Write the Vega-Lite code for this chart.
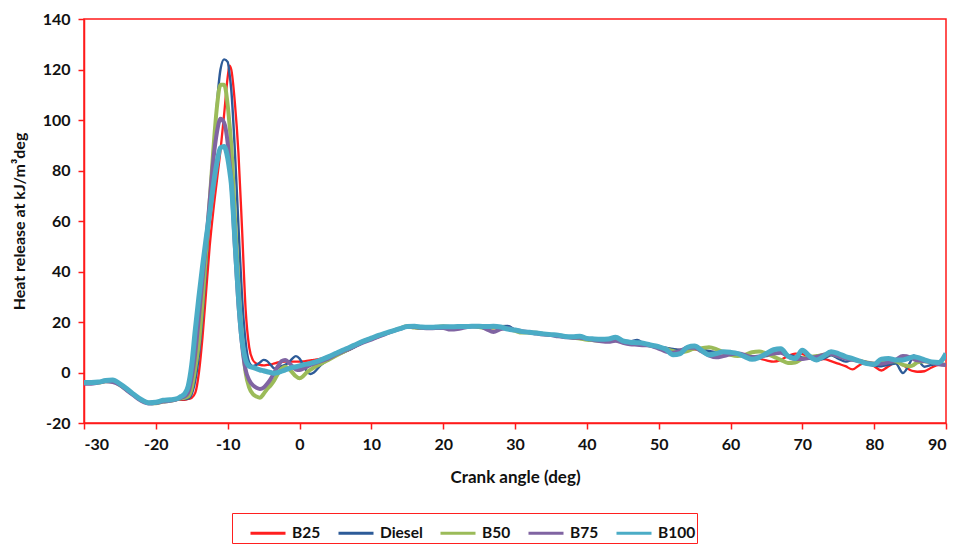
{
  "$schema": "https://vega.github.io/schema/vega-lite/v6.json",
  "width": 862,
  "height": 404,
  "autosize": {"type": "none"},
  "padding": {"left": 84, "top": 19, "right": 13, "bottom": 122},
  "background": "white",
  "config": {
    "view": {"stroke": "#ff1a1a", "strokeWidth": 1.5},
    "font": "Lato",
    "axis": {
      "grid": false,
      "domainColor": "#ff1a1a",
      "domainWidth": 1.5,
      "tickColor": "#ff1a1a",
      "tickWidth": 1.5,
      "tickSize": 6,
      "labelFont": "Lato",
      "labelFontSize": 16,
      "labelFontWeight": "bold",
      "labelColor": "#111111",
      "titleFont": "Lato",
      "titleFontSize": 16,
      "titleFontWeight": "bold",
      "titleColor": "#111111"
    },
    "legend": {
      "title": null,
      "orient": "none",
      "direction": "horizontal",
      "legendX": 148,
      "legendY": 494,
      "symbolType": "stroke",
      "symbolSize": 1225,
      "symbolStrokeWidth": 3,
      "symbolOffset": 16,
      "labelFont": "Lato",
      "labelFontSize": 15.5,
      "labelFontWeight": "bold",
      "labelColor": "#111111",
      "labelOffset": 5,
      "columnPadding": 0,
      "padding": 1,
      "strokeColor": "#ff1f1f",
      "fillColor": "white"
    }
  },
  "data": {
    "values": [
      {"angle": -30, "B25": -4, "Diesel": -4, "B50": -4, "B75": -4.5, "B100": -4},
      {"angle": -29, "B25": -4, "Diesel": -4, "B50": -4, "B75": -4.5, "B100": -4},
      {"angle": -28, "B25": -4, "Diesel": -4, "B50": -4, "B75": -4, "B100": -3.8},
      {"angle": -27, "B25": -3.5, "Diesel": -3.5, "B50": -3.5, "B75": -3.5, "B100": -3.2},
      {"angle": -26, "B25": -3.5, "Diesel": -3.5, "B50": -3.5, "B75": -3.8, "B100": -3},
      {"angle": -25, "B25": -5, "Diesel": -5, "B50": -5, "B75": -5, "B100": -4.5},
      {"angle": -24, "B25": -7, "Diesel": -7, "B50": -7, "B75": -7.2, "B100": -6.5},
      {"angle": -23, "B25": -9, "Diesel": -9, "B50": -9, "B75": -9.3, "B100": -8.8},
      {"angle": -22, "B25": -11, "Diesel": -11, "B50": -11, "B75": -11.3, "B100": -10.8},
      {"angle": -21, "B25": -12, "Diesel": -12, "B50": -12, "B75": -12.3, "B100": -12},
      {"angle": -20, "B25": -12, "Diesel": -12, "B50": -12.2, "B75": -12, "B100": -11.8},
      {"angle": -19, "B25": -11.5, "Diesel": -11.5, "B50": -11.5, "B75": -11.5, "B100": -11},
      {"angle": -18, "B25": -11.2, "Diesel": -11.2, "B50": -11.2, "B75": -11.2, "B100": -10.8},
      {"angle": -17, "B25": -10.8, "Diesel": -10.8, "B50": -10.5, "B75": -10.5, "B100": -10.3},
      {"angle": -16.5, "B25": -10.8, "Diesel": -10.5, "B50": -10.2, "B75": -10, "B100": -9.5},
      {"angle": -16, "B25": -10.8, "Diesel": -10.5, "B50": -10, "B75": -9.5, "B100": -8.5},
      {"angle": -15.5, "B25": -10.5, "Diesel": -10.3, "B50": -9.5, "B75": -8, "B100": -5.5},
      {"angle": -15, "B25": -10, "Diesel": -8.5, "B50": -6, "B75": -2, "B100": 3},
      {"angle": -14.5, "B25": -8, "Diesel": -3, "B50": 2, "B75": 8, "B100": 17},
      {"angle": -14, "B25": 0, "Diesel": 7, "B50": 12, "B75": 22, "B100": 30},
      {"angle": -13.5, "B25": 14, "Diesel": 22, "B50": 28, "B75": 37, "B100": 42},
      {"angle": -13, "B25": 32, "Diesel": 42, "B50": 48, "B75": 52, "B100": 53},
      {"angle": -12.5, "B25": 50, "Diesel": 62, "B50": 68, "B75": 68, "B100": 63},
      {"angle": -12, "B25": 64, "Diesel": 85, "B50": 88, "B75": 84, "B100": 74},
      {"angle": -11.5, "B25": 76, "Diesel": 106, "B50": 105, "B75": 95, "B100": 83},
      {"angle": -11, "B25": 88, "Diesel": 120, "B50": 114, "B75": 100.5, "B100": 89},
      {"angle": -10.5, "B25": 102, "Diesel": 124, "B50": 114, "B75": 99, "B100": 89.5},
      {"angle": -10, "B25": 117, "Diesel": 123, "B50": 106, "B75": 91, "B100": 85},
      {"angle": -9.75, "B25": 121.5, "Diesel": 118.5, "B50": 98.5, "B75": 83.5, "B100": 80.5},
      {"angle": -9.5, "B25": 120, "Diesel": 112, "B50": 90, "B75": 76, "B100": 75},
      {"angle": -9, "B25": 107, "Diesel": 88, "B50": 62, "B75": 50, "B100": 53},
      {"angle": -8.5, "B25": 87, "Diesel": 58, "B50": 35, "B75": 27, "B100": 30},
      {"angle": -8, "B25": 57, "Diesel": 30, "B50": 14, "B75": 11, "B100": 13},
      {"angle": -7.5, "B25": 25, "Diesel": 12, "B50": 0, "B75": 1, "B100": 5},
      {"angle": -7, "B25": 10, "Diesel": 4, "B50": -6, "B75": -3, "B100": 2.5},
      {"angle": -6.5, "B25": 5, "Diesel": 2.5, "B50": -8.5, "B75": -5, "B100": 2},
      {"angle": -6, "B25": 3.5, "Diesel": 3, "B50": -9.5, "B75": -6, "B100": 1.5},
      {"angle": -5.5, "B25": 3, "Diesel": 4, "B50": -10, "B75": -6.5, "B100": 1},
      {"angle": -5, "B25": 2.8, "Diesel": 5, "B50": -8.5, "B75": -6, "B100": 0.7},
      {"angle": -4.5, "B25": 3, "Diesel": 4.5, "B50": -6.5, "B75": -4.5, "B100": 0.3},
      {"angle": -4, "B25": 3.2, "Diesel": 3, "B50": -5, "B75": -2.5, "B100": 0},
      {"angle": -3.5, "B25": 3.6, "Diesel": 1.6, "B50": -3, "B75": 0, "B100": -0.3},
      {"angle": -3, "B25": 4, "Diesel": 1.8, "B50": -0.5, "B75": 2.5, "B100": 0},
      {"angle": -2.5, "B25": 4.2, "Diesel": 2.5, "B50": 1.5, "B75": 4.5, "B100": 0.5},
      {"angle": -2, "B25": 4.3, "Diesel": 3, "B50": 2.3, "B75": 5, "B100": 1},
      {"angle": -1.5, "B25": 4.3, "Diesel": 4, "B50": 1.5, "B75": 4, "B100": 1.5},
      {"angle": -1, "B25": 4.3, "Diesel": 5.5, "B50": 0, "B75": 2.5, "B100": 2},
      {"angle": -0.5, "B25": 4.3, "Diesel": 6.5, "B50": -1.5, "B75": 1.2, "B100": 2.3},
      {"angle": 0, "B25": 4.3, "Diesel": 5.5, "B50": -2.3, "B75": 1, "B100": 2.6},
      {"angle": 0.5, "B25": 4.4, "Diesel": 3, "B50": -1.5, "B75": 1.5, "B100": 3},
      {"angle": 1, "B25": 4.6, "Diesel": 0.5, "B50": 0, "B75": 2.2, "B100": 3.3},
      {"angle": 1.5, "B25": 4.8, "Diesel": -0.6, "B50": 1, "B75": 3, "B100": 3.6},
      {"angle": 2, "B25": 5, "Diesel": 0, "B50": 2, "B75": 3.5, "B100": 4},
      {"angle": 3, "B25": 5.5, "Diesel": 3, "B50": 3.5, "B75": 4.5, "B100": 5},
      {"angle": 4, "B25": 6.5, "Diesel": 5, "B50": 5, "B75": 5.5, "B100": 6.2},
      {"angle": 5, "B25": 7.5, "Diesel": 6.5, "B50": 6.5, "B75": 7, "B100": 7.5},
      {"angle": 6, "B25": 8.3, "Diesel": 7.8, "B50": 8, "B75": 8.3, "B100": 8.8},
      {"angle": 7, "B25": 9, "Diesel": 9, "B50": 9.5, "B75": 9.5, "B100": 10},
      {"angle": 8, "B25": 10.8, "Diesel": 10.5, "B50": 11, "B75": 10.8, "B100": 11.3},
      {"angle": 9, "B25": 12, "Diesel": 12, "B50": 12.5, "B75": 12, "B100": 12.5},
      {"angle": 10, "B25": 13, "Diesel": 13.2, "B50": 13.5, "B75": 13, "B100": 13.6},
      {"angle": 11, "B25": 14, "Diesel": 14.3, "B50": 14.5, "B75": 14.2, "B100": 14.7},
      {"angle": 12, "B25": 15.3, "Diesel": 15.3, "B50": 15.5, "B75": 15.3, "B100": 15.6},
      {"angle": 13, "B25": 16.5, "Diesel": 16.3, "B50": 16.5, "B75": 16.4, "B100": 16.5},
      {"angle": 14, "B25": 17.3, "Diesel": 17.2, "B50": 17.5, "B75": 17.3, "B100": 17.4},
      {"angle": 15, "B25": 18.3, "Diesel": 18, "B50": 18.3, "B75": 18.1, "B100": 18.2},
      {"angle": 16, "B25": 18.2, "Diesel": 18.1, "B50": 17.8, "B75": 18, "B100": 18.3},
      {"angle": 17, "B25": 17.8, "Diesel": 17.9, "B50": 17.6, "B75": 17.7, "B100": 18},
      {"angle": 18, "B25": 17.6, "Diesel": 17.6, "B50": 17.7, "B75": 17.5, "B100": 17.9},
      {"angle": 19, "B25": 17.8, "Diesel": 17.8, "B50": 18, "B75": 17.6, "B100": 18},
      {"angle": 20, "B25": 18, "Diesel": 18, "B50": 18.3, "B75": 17.6, "B100": 18.1},
      {"angle": 21, "B25": 18, "Diesel": 18, "B50": 18, "B75": 17, "B100": 18.1},
      {"angle": 22, "B25": 17.8, "Diesel": 18, "B50": 17.6, "B75": 17.2, "B100": 18.2},
      {"angle": 23, "B25": 18, "Diesel": 18.2, "B50": 18.2, "B75": 17.8, "B100": 18.2},
      {"angle": 24, "B25": 18.4, "Diesel": 18.3, "B50": 18.4, "B75": 18.2, "B100": 18.3},
      {"angle": 25, "B25": 18.3, "Diesel": 18.2, "B50": 18, "B75": 18.3, "B100": 18.3},
      {"angle": 26, "B25": 17.8, "Diesel": 18, "B50": 17.5, "B75": 17.2, "B100": 18.2},
      {"angle": 27, "B25": 17.5, "Diesel": 17.8, "B50": 17.8, "B75": 16, "B100": 18.3},
      {"angle": 28, "B25": 17.8, "Diesel": 18.3, "B50": 18, "B75": 17.2, "B100": 18},
      {"angle": 29, "B25": 17.6, "Diesel": 18.4, "B50": 17.3, "B75": 17.5, "B100": 17.2},
      {"angle": 30, "B25": 16.8, "Diesel": 17, "B50": 16.5, "B75": 16.8, "B100": 16.8},
      {"angle": 31, "B25": 16, "Diesel": 16.2, "B50": 15.8, "B75": 16.3, "B100": 16.2},
      {"angle": 32, "B25": 15.6, "Diesel": 15.9, "B50": 15.8, "B75": 15.9, "B100": 15.9},
      {"angle": 33, "B25": 15.4, "Diesel": 15.5, "B50": 15.7, "B75": 15.4, "B100": 15.6},
      {"angle": 34, "B25": 15.2, "Diesel": 15.3, "B50": 15.2, "B75": 15, "B100": 15.3},
      {"angle": 35, "B25": 14.8, "Diesel": 15, "B50": 15, "B75": 14.8, "B100": 15},
      {"angle": 36, "B25": 14.2, "Diesel": 14.5, "B50": 14.7, "B75": 14.3, "B100": 14.8},
      {"angle": 37, "B25": 14, "Diesel": 14.3, "B50": 14.2, "B75": 14, "B100": 14.3},
      {"angle": 38, "B25": 13.8, "Diesel": 14.3, "B50": 13.8, "B75": 13.8, "B100": 14.2},
      {"angle": 39, "B25": 13.5, "Diesel": 14, "B50": 13.5, "B75": 13.8, "B100": 14.4},
      {"angle": 40, "B25": 13.3, "Diesel": 13.3, "B50": 13, "B75": 13.4, "B100": 13.5},
      {"angle": 41, "B25": 13, "Diesel": 12.6, "B50": 12.8, "B75": 12.8, "B100": 13.3},
      {"angle": 42, "B25": 12.8, "Diesel": 12.8, "B50": 12.6, "B75": 12.4, "B100": 13.2},
      {"angle": 43, "B25": 12.3, "Diesel": 13, "B50": 12.6, "B75": 12.2, "B100": 13.3},
      {"angle": 44, "B25": 12.6, "Diesel": 13.5, "B50": 12.8, "B75": 12.6, "B100": 14},
      {"angle": 45, "B25": 12, "Diesel": 12.6, "B50": 12.2, "B75": 11.8, "B100": 12.5},
      {"angle": 46, "B25": 11.5, "Diesel": 12.4, "B50": 11.8, "B75": 11.2, "B100": 12},
      {"angle": 47, "B25": 11.3, "Diesel": 12.9, "B50": 11.5, "B75": 11, "B100": 11.8},
      {"angle": 48, "B25": 11, "Diesel": 11.3, "B50": 11.2, "B75": 10.8, "B100": 11.5},
      {"angle": 49, "B25": 10.8, "Diesel": 10.8, "B50": 10.6, "B75": 10.5, "B100": 10.8},
      {"angle": 50, "B25": 10.3, "Diesel": 10.3, "B50": 10, "B75": 9.5, "B100": 10.2},
      {"angle": 51, "B25": 9.6, "Diesel": 9.8, "B50": 9.3, "B75": 8.3, "B100": 9.2},
      {"angle": 52, "B25": 9.2, "Diesel": 9.3, "B50": 8.5, "B75": 7.8, "B100": 7},
      {"angle": 53, "B25": 9, "Diesel": 9, "B50": 8, "B75": 8.5, "B100": 7.5},
      {"angle": 54, "B25": 9, "Diesel": 9.5, "B50": 8.5, "B75": 9.8, "B100": 10},
      {"angle": 55, "B25": 9.2, "Diesel": 10, "B50": 9.5, "B75": 9.8, "B100": 10.5},
      {"angle": 56, "B25": 8.8, "Diesel": 9.3, "B50": 9.6, "B75": 8.3, "B100": 8.7},
      {"angle": 57, "B25": 8.3, "Diesel": 8.5, "B50": 10, "B75": 6.8, "B100": 7},
      {"angle": 58, "B25": 8, "Diesel": 8, "B50": 9.3, "B75": 6, "B100": 7.5},
      {"angle": 59, "B25": 7.5, "Diesel": 7.8, "B50": 8, "B75": 6.5, "B100": 8.2},
      {"angle": 60, "B25": 7.2, "Diesel": 7.5, "B50": 7, "B75": 7.2, "B100": 8},
      {"angle": 61, "B25": 6.8, "Diesel": 7.2, "B50": 6.5, "B75": 7.5, "B100": 7.5},
      {"angle": 62, "B25": 6.5, "Diesel": 7, "B50": 7, "B75": 7, "B100": 6.3},
      {"angle": 63, "B25": 6, "Diesel": 6.5, "B50": 8, "B75": 6, "B100": 5.2},
      {"angle": 64, "B25": 5.5, "Diesel": 6.3, "B50": 8.3, "B75": 6.3, "B100": 6},
      {"angle": 65, "B25": 4.8, "Diesel": 6.5, "B50": 7.5, "B75": 7, "B100": 7.5},
      {"angle": 66, "B25": 4.3, "Diesel": 7.5, "B50": 6.3, "B75": 7.5, "B100": 9},
      {"angle": 67, "B25": 5, "Diesel": 7.8, "B50": 5, "B75": 7.8, "B100": 9.4},
      {"angle": 68, "B25": 6.5, "Diesel": 7, "B50": 3.8, "B75": 6.5, "B100": 6.5},
      {"angle": 69, "B25": 7.5, "Diesel": 6.3, "B50": 4, "B75": 5.3, "B100": 5.5},
      {"angle": 70, "B25": 7.3, "Diesel": 6, "B50": 5.5, "B75": 5.3, "B100": 8.8},
      {"angle": 71, "B25": 6, "Diesel": 5.5, "B50": 6.2, "B75": 5.8, "B100": 6.5},
      {"angle": 72, "B25": 5.2, "Diesel": 5, "B50": 6.5, "B75": 6.2, "B100": 5},
      {"angle": 73, "B25": 5.3, "Diesel": 5.5, "B50": 7, "B75": 7, "B100": 6.5},
      {"angle": 74, "B25": 4.5, "Diesel": 6.8, "B50": 7.3, "B75": 7.3, "B100": 8.2},
      {"angle": 75, "B25": 3.5, "Diesel": 5.5, "B50": 6.5, "B75": 6.5, "B100": 7.5},
      {"angle": 76, "B25": 2.5, "Diesel": 4.3, "B50": 5.8, "B75": 5.5, "B100": 6.3},
      {"angle": 77, "B25": 1.2, "Diesel": 5, "B50": 5.2, "B75": 5, "B100": 5.5},
      {"angle": 78, "B25": 3, "Diesel": 4.3, "B50": 4.5, "B75": 4.5, "B100": 4.5},
      {"angle": 79, "B25": 4, "Diesel": 3.2, "B50": 4, "B75": 3.8, "B100": 3.5},
      {"angle": 80, "B25": 2.5, "Diesel": 2.8, "B50": 3.5, "B75": 3.5, "B100": 3.2},
      {"angle": 81, "B25": 0.8, "Diesel": 2.5, "B50": 4, "B75": 3.5, "B100": 5.3},
      {"angle": 82, "B25": 2.5, "Diesel": 3, "B50": 4.5, "B75": 4, "B100": 5.5},
      {"angle": 83, "B25": 4, "Diesel": 3.5, "B50": 4.5, "B75": 5, "B100": 5},
      {"angle": 84, "B25": 3, "Diesel": -0.2, "B50": 3, "B75": 6.5, "B100": 5},
      {"angle": 85, "B25": 1, "Diesel": 4, "B50": 2.5, "B75": 6, "B100": 5.8},
      {"angle": 85.5, "B25": 0.5, "Diesel": 6.8, "B50": 3, "B75": 5.3, "B100": 6.2},
      {"angle": 86, "B25": 0.3, "Diesel": 5.5, "B50": 4, "B75": 4.8, "B100": 6},
      {"angle": 87, "B25": 0.5, "Diesel": 2.3, "B50": 4.5, "B75": 4.5, "B100": 5},
      {"angle": 88, "B25": 2, "Diesel": 3, "B50": 4, "B75": 4, "B100": 4.2},
      {"angle": 89, "B25": 3, "Diesel": 3.5, "B50": 3.5, "B75": 3.3, "B100": 4},
      {"angle": 90, "B25": 3, "Diesel": 3, "B50": 3, "B75": 3, "B100": 7.5}
    ]
  },
  "transform": [
    {"fold": ["B25", "Diesel", "B50", "B75", "B100"], "as": ["fuel", "heat"]}
  ],
  "encoding": {
    "x": {
      "field": "angle",
      "type": "quantitative",
      "scale": {"domain": [-30, 90], "nice": false, "zero": false},
      "axis": {
        "title": "Crank angle (deg)",
        "titleFontSize": 17,
        "values": [-30, -20, -10, 0, 10, 20, 30, 40, 50, 60, 70, 80, 90],
        "labelExpr": "datum.value + ''",
        "labelPadding": 7,
        "titlePadding": 17
      }
    },
    "y": {
      "field": "heat",
      "type": "quantitative",
      "scale": {"domain": [-20, 140], "nice": false, "zero": false},
      "axis": {
        "title": "Heat release at kJ/m³deg",
        "values": [-20, 0, 20, 40, 60, 80, 100, 120, 140],
        "labelExpr": "datum.value + ''",
        "labelPadding": 8,
        "titlePadding": 15
      }
    },
    "color": {
      "field": "fuel",
      "type": "nominal",
      "sort": ["B25", "Diesel", "B50", "B75", "B100"],
      "scale": {
        "domain": ["B25", "Diesel", "B50", "B75", "B100"],
        "range": ["#ff1f1f", "#2d5b98", "#9bbb59", "#8064a2", "#4bacc6"]
      }
    }
  },
  "layer": [
    {
      "transform": [{"filter": "datum.fuel === 'B25'"}],
      "mark": {"type": "line", "interpolate": "monotone", "clip": true, "strokeWidth": 2.3, "strokeJoin": "round"}
    },
    {
      "transform": [{"filter": "datum.fuel === 'Diesel'"}],
      "mark": {"type": "line", "interpolate": "monotone", "clip": true, "strokeWidth": 2.4, "strokeJoin": "round"}
    },
    {
      "transform": [{"filter": "datum.fuel === 'B50'"}],
      "mark": {"type": "line", "interpolate": "monotone", "clip": true, "strokeWidth": 4, "strokeJoin": "round"}
    },
    {
      "transform": [{"filter": "datum.fuel === 'B75'"}],
      "mark": {"type": "line", "interpolate": "monotone", "clip": true, "strokeWidth": 4, "strokeJoin": "round"}
    },
    {
      "transform": [{"filter": "datum.fuel === 'B100'"}],
      "mark": {"type": "line", "interpolate": "monotone", "clip": true, "strokeWidth": 5, "strokeJoin": "round"}
    }
  ]
}
